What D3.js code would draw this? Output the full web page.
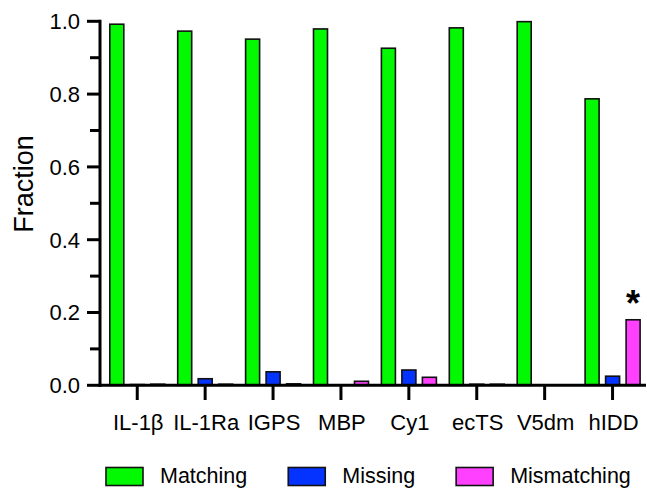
<!DOCTYPE html>
<html>
<head>
<meta charset="utf-8">
<script src="https://cdn.jsdelivr.net/npm/d3@7"></script>
<style>
  html, body { margin: 0; padding: 0; background: #fff; }
  svg text { font-family: "Liberation Sans", Arial, Helvetica, sans-serif; fill: #000; }
</style>
</head>
<body>
<svg id="chart" width="647" height="488"></svg>
<script>
// Proteins on the x axis
const categories = ["IL-1\u03b2", "IL-1Ra", "IGPS", "MBP", "Cy1", "ecTS", "V5dm", "hIDD"];
// Series names and fills
const seriesNames = ["Matching", "Missing", "Mismatching"];
const seriesColors = ["#02F902", "#0433FF", "#FF40FF"];
// Fraction of each outcome per protein
const matching    = [0.992, 0.973, 0.951, 0.979, 0.926, 0.982, 0.999, 0.787];
const missing     = [0.002, 0.018, 0.037, 0.000, 0.042, 0.003, 0.000, 0.025];
const mismatching = [0.003, 0.003, 0.004, 0.011, 0.022, 0.003, 0.000, 0.180];
// Y axis ticks
const yTicks = [0, 0.2, 0.4, 0.6, 0.8, 1.0];
const yMinorTicks = [0.1, 0.3, 0.5, 0.7, 0.9];
// Significance marker
const starCategory = "hIDD";
const starSeries = "Mismatching";

const seriesValues = [matching, missing, mismatching];
const rows = categories.map((c, i) => ({
  category: c,
  values: seriesNames.map((s, j) => ({ series: s, value: seriesValues[j][i], color: seriesColors[j] }))
}));

const svg = d3.select("#chart");
const axisX = 100;
const y = d3.scaleLinear().domain([0, 1]).range([385.3, 21.3]);
const x = d3.scaleBand().domain(categories).range([103.3, 646.5]).padding(0);
const xSub = d3.scaleBand().domain(seriesNames).range([6.5, 61.5]).paddingInner(0.317).paddingOuter(0);

// Bars
const groups = svg.append("g").selectAll("g").data(rows).join("g")
  .attr("transform", d => `translate(${x(d.category)},0)`);
groups.selectAll("rect").data(d => d.values.filter(v => v.value > 0)).join("rect")
  .attr("x", d => xSub(d.series))
  .attr("width", xSub.bandwidth())
  .attr("y", d => y(d.value))
  .attr("height", d => y(0) - y(d.value))
  .attr("fill", d => d.color)
  .attr("stroke", "#111")
  .attr("stroke-width", 1.6);

// Star over the marked bar
const starRow = rows.find(r => r.category === starCategory);
const starVal = starRow.values.find(v => v.series === starSeries).value;
svg.append("text")
  .attr("x", x(starCategory) + xSub(starSeries) + xSub.bandwidth() / 2)
  .attr("y", y(starVal) - 4)
  .attr("text-anchor", "middle")
  .style("font-size", "36px")
  .style("font-weight", "bold")
  .text("*");

// Y axis
const yAxis = svg.append("g").attr("transform", `translate(${axisX},0)`);
yAxis.append("line").attr("x1", 0).attr("x2", 0).attr("y1", y(1) - 1.5).attr("y2", y(0) + 1.5)
  .attr("stroke", "#000").attr("stroke-width", 3);
yAxis.selectAll(".major").data(yTicks).join("line").attr("class", "major")
  .attr("x1", -13).attr("x2", 0).attr("y1", d => y(d)).attr("y2", d => y(d))
  .attr("stroke", "#000").attr("stroke-width", 3);
yAxis.selectAll(".minor").data(yMinorTicks).join("line").attr("class", "minor")
  .attr("x1", -10).attr("x2", 0).attr("y1", d => y(d)).attr("y2", d => y(d))
  .attr("stroke", "#000").attr("stroke-width", 3);
yAxis.selectAll("text").data(yTicks).join("text")
  .attr("x", -20).attr("y", d => y(d)).attr("dy", "0.36em")
  .attr("text-anchor", "end")
  .style("font-size", "22px")
  .text(d => d3.format(".1f")(d));

svg.append("text")
  .attr("transform", "translate(33,184) rotate(-90)")
  .attr("text-anchor", "middle")
  .style("font-size", "27px")
  .text("Fraction");

// X axis
const xAxis = svg.append("g");
xAxis.append("line").attr("x1", axisX - 1.5).attr("x2", 646).attr("y1", y(0)).attr("y2", y(0))
  .attr("stroke", "#000").attr("stroke-width", 3);
xAxis.selectAll(".tick").data(categories).join("line").attr("class", "tick")
  .attr("x1", d => x(d) + x.bandwidth() / 2).attr("x2", d => x(d) + x.bandwidth() / 2)
  .attr("y1", y(0)).attr("y2", 400)
  .attr("stroke", "#000").attr("stroke-width", 3);
xAxis.selectAll("text").data(categories).join("text")
  .attr("x", d => x(d) + x.bandwidth() / 2 + 1).attr("y", 430)
  .attr("text-anchor", "middle")
  .style("font-size", "22px")
  .text(d => d);

// Legend
const legend = svg.append("g");
let lx = 106;
seriesNames.forEach((name, i) => {
  legend.append("rect").attr("x", lx).attr("y", 467.5).attr("width", 37).attr("height", 18)
    .attr("fill", seriesColors[i]).attr("stroke", "#111").attr("stroke-width", 1.6);
  const t = legend.append("text").attr("x", lx + 54).attr("y", 483)
    .style("font-size", "21.5px").text(name);
  lx += 54 + t.node().getComputedTextLength() + 41;
});
</script>
</body>
</html>
